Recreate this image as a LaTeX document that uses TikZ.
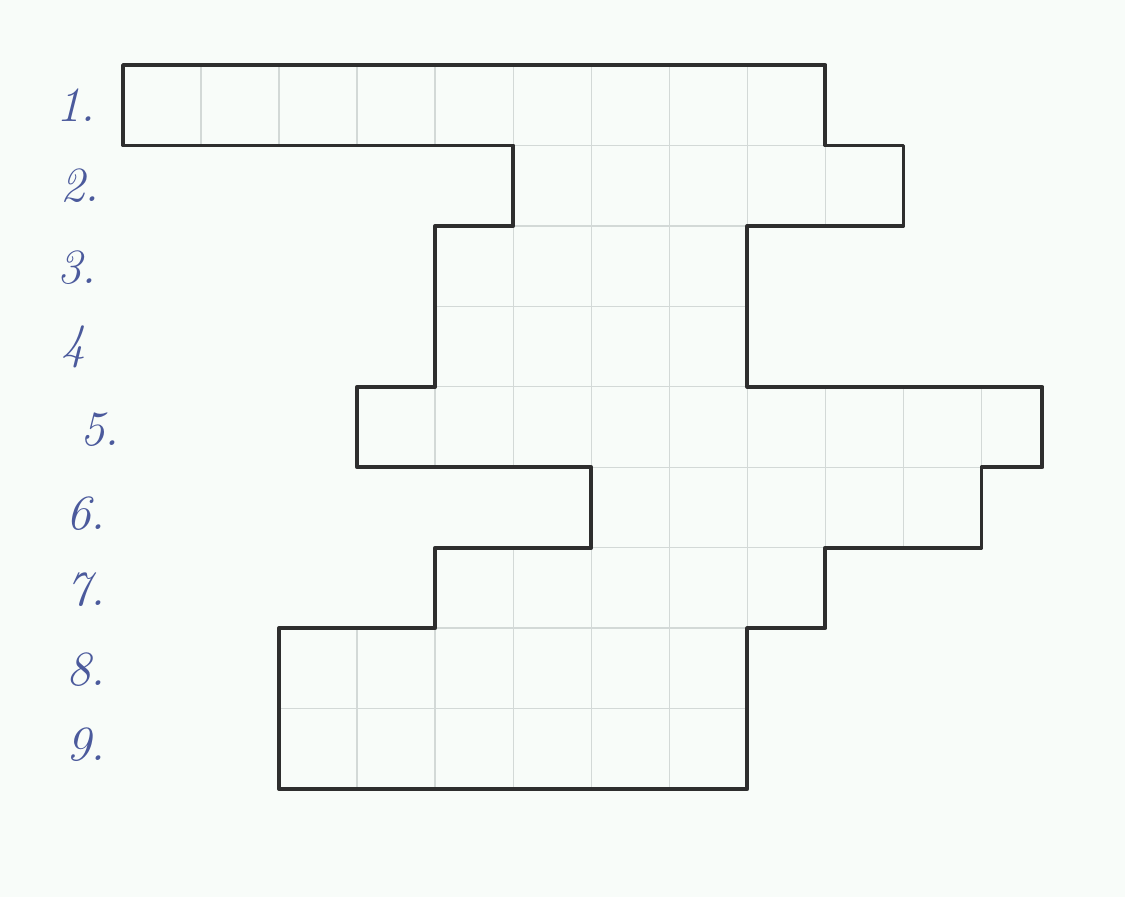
\documentclass[tikz,border=0pt]{standalone}
\usepackage{xcolor}
\definecolor{inkblue}{HTML}{4B5A9C}
\definecolor{pencil}{HTML}{2E2E2E}
\definecolor{gridgray}{HTML}{D3D9D7}
\definecolor{paper}{HTML}{F8FCF9}

\begin{document}
\begin{tikzpicture}[x=0.01cm, y=-0.01cm,
    every node/.style={font=\itshape\fontsize{14}{16}\selectfont, text=inkblue},
    cellgrid/.style={gridgray, line width=0.4pt},
    outline/.style={pencil, line width=1.1pt, line join=round}]
        \fill[paper] (0,0) rectangle (1125,897);
        \useasboundingbox (0,0) rectangle (1125,897);

        % Umriss der Figur, in Kästchen gezählt (Zeile 1 oben).
        \def\figpath{(0,0) -- (9,0) -- (9,1) -- (10,1) -- (10,2) -- (8,2)
          -- (8,4) -- (11.78,4) -- (11.78,5) -- (11,5) -- (11,6) -- (9,6)
          -- (9,7) -- (8,7) -- (8,9) -- (2,9) -- (2,7) -- (4,7) -- (4,6)
          -- (6,6) -- (6,5) -- (3,5) -- (3,4) -- (4,4) -- (4,2) -- (5,2)
          -- (5,1) -- (0,1) -- cycle}
        \begin{scope}[shift={(123,65)}, x=0.78cm, y=-0.804cm]
          \begin{scope}
            \clip \figpath;
            \foreach \c in {1,...,11}
              \draw[cellgrid] (\c,0) -- (\c,9);
            \foreach \r in {1,...,8}
              \draw[cellgrid] (0,\r) -- (12,\r);
          \end{scope}
          \draw[outline] \figpath;
        \end{scope}

        % Zeilennummern
        \foreach \n/\x/\y/\t in {1/76/105/1., 2/80/186/2., 3/77/268/3.,
            4/74/347/4, 5/100/430/5., 6/86/514/6., 7/86/590/7.,
            8/86/670/8., 9/86/745/9.} {
          \node (row\n) at (\x,\y) {\t};
        }
      \end{tikzpicture}
\end{document}
